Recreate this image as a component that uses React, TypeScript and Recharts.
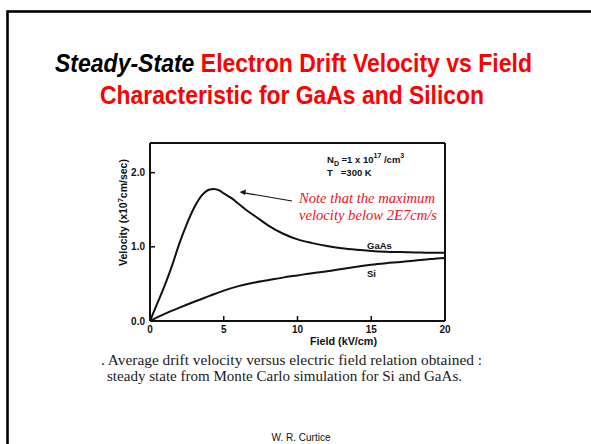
import React from 'react';
import { LineChart, Line, XAxis, YAxis } from 'recharts';

// Field (kV/cm) and velocity (x1e7 cm/s)
const gaasField = [0, 0.5, 1, 1.5, 2, 2.5, 3, 3.5, 4, 4.3, 4.7, 5, 5.5, 6, 6.5, 7, 7.5, 8, 9, 10, 11, 12, 13, 14, 15, 16, 17, 18, 19, 20];
const gaasVelocity = [0, 0.24, 0.48, 0.75, 1.05, 1.31, 1.53, 1.69, 1.77, 1.78, 1.76, 1.72, 1.66, 1.58, 1.5, 1.43, 1.36, 1.29, 1.18, 1.1, 1.05, 1.01, 0.98, 0.96, 0.945, 0.935, 0.93, 0.925, 0.92, 0.92];
const siField = [0, 1, 2, 3, 4, 5, 6, 7, 8, 9, 10, 11, 12, 13, 14, 15, 16, 17, 18, 19, 20];
const siVelocity = [0, 0.095, 0.18, 0.26, 0.335, 0.41, 0.47, 0.515, 0.55, 0.585, 0.615, 0.645, 0.67, 0.7, 0.73, 0.76, 0.78, 0.795, 0.815, 0.835, 0.85];
const xTicks = [0, 5, 10, 15, 20];
const yTicks = [0, 1, 2];
const yTickLabels = ['0.0', '1.0', '2.0'];

const gaasData = gaasField.map((f, i) => ({ field: f, v: gaasVelocity[i] }));
const siData = siField.map((f, i) => ({ field: f, v: siVelocity[i] }));

const axisFont = { fontFamily: 'Liberation Sans, Arial, sans-serif', fontWeight: 700, fontSize: 10, fill: '#111' };

export default function App() {
  return (
    <div style={{ position: 'absolute', left: 0, top: 0, width: 591, height: 444, background: '#fff', overflow: 'hidden' }}>
      <div style={{ position: 'absolute', left: 0, top: 0 }}>
        <LineChart width={591} height={444} data={gaasData} margin={{ top: 138, right: 141, bottom: 93, left: 110 }}>
          <XAxis
            xAxisId="b"
            dataKey="field"
            type="number"
            domain={[0, 20]}
            ticks={xTicks}
            interval={0}
            height={30}
            orientation="bottom"
            axisLine={{ stroke: '#111', strokeWidth: 2 }}
            tickLine={{ stroke: '#111', strokeWidth: 1.5 }}
            tickSize={-5}
            tickMargin={10}
            tick={axisFont}
          />
          <XAxis
            xAxisId="t"
            dataKey="field"
            type="number"
            domain={[0, 20]}
            ticks={xTicks}
            interval={0}
            height={5}
            orientation="top"
            axisLine={{ stroke: '#111', strokeWidth: 2 }}
            tickLine={{ stroke: '#111', strokeWidth: 1.5 }}
            tickSize={-5}
            tick={false}
          />
          <YAxis
            yAxisId="l"
            type="number"
            domain={[0, 2.4]}
            ticks={yTicks}
            interval={0}
            width={40}
            orientation="left"
            axisLine={{ stroke: '#111', strokeWidth: 2 }}
            tickLine={{ stroke: '#111', strokeWidth: 1.5 }}
            tickSize={-5}
            tickMargin={10}
            tick={axisFont}
            tickFormatter={(v: number) => yTickLabels[yTicks.indexOf(v)]}
          />
          <YAxis
            yAxisId="r"
            type="number"
            domain={[0, 2.4]}
            ticks={yTicks}
            interval={0}
            width={5}
            orientation="right"
            axisLine={{ stroke: '#111', strokeWidth: 2 }}
            tickLine={{ stroke: '#111', strokeWidth: 1.5 }}
            tickSize={-5}
            tick={false}
          />
          <Line data={gaasData} xAxisId="b" yAxisId="l" dataKey="v" type="monotone" stroke="#111" strokeWidth={2} dot={false} isAnimationActive={false} />
          <Line data={siData} xAxisId="b" yAxisId="l" dataKey="v" type="monotone" stroke="#111" strokeWidth={2} dot={false} isAnimationActive={false} />
        </LineChart>
      </div>
      <svg width={591} height={444} style={{ position: 'absolute', left: 0, top: 0, pointerEvents: 'none' }}>
        <rect x={7.5} y={11.5} width={700} height={600} fill="none" stroke="#000" strokeWidth={2.6} />
        <text x={55} y={72.4} fontFamily="Liberation Sans, Arial, sans-serif" fontWeight={700} fontSize={25} textLength={477} lengthAdjust="spacingAndGlyphs">
          <tspan fill="#000" fontStyle="italic">Steady-State</tspan>
          <tspan fill="#ff0000"> Electron Drift Velocity vs Field</tspan>
        </text>
        <text x={100} y={103.5} fill="#ff0000" fontFamily="Liberation Sans, Arial, sans-serif" fontWeight={700} fontSize={25} textLength={384} lengthAdjust="spacingAndGlyphs">
          Characteristic for GaAs and Silicon
        </text>

        <text x={310} y={345} {...axisFont} textLength={67} lengthAdjust="spacingAndGlyphs">Field (kV/cm)</text>
        <text transform="rotate(-90, 127, 212.5)" x={127} y={212.5} textAnchor="middle" {...axisFont} fontSize={10.5}>
          Velocity (x10<tspan dy={-4} fontSize={7.5}>7</tspan><tspan dy={4}>cm/sec)</tspan>
        </text>

        <text x={327} y={163} {...axisFont} fontSize={9.5} fontWeight={600}>
          N<tspan dy={2.5} fontSize={7}>D</tspan><tspan dy={-2.5}> =1 x 10</tspan><tspan dy={-5} fontSize={7}>17</tspan><tspan dy={5}> /cm</tspan><tspan dy={-5} fontSize={7}>3</tspan>
        </text>
        <text x={327} y={176} {...axisFont} fontSize={9.5} fontWeight={600}>T<tspan dx={8}>=300 K</tspan></text>
        <text x={367} y={249} {...axisFont} fontSize={9.5} fontWeight={600}>GaAs</text>
        <text x={367} y={277} {...axisFont} fontSize={9.5} fontWeight={600}>Si</text>

        <text x={299} y={203} fill="#f01020" fontFamily="Liberation Serif, Times New Roman, serif" fontStyle="italic" fontSize={15} textLength={136} lengthAdjust="spacingAndGlyphs">Note that the maximum</text>
        <text x={299} y={220} fill="#f01020" fontFamily="Liberation Serif, Times New Roman, serif" fontStyle="italic" fontSize={15} textLength={138} lengthAdjust="spacingAndGlyphs">velocity below 2E7cm/s</text>

        <line x1={292} y1={201} x2={244} y2={192.8} stroke="#111" strokeWidth={1.2} />
        <polygon points="239.5,192 246,189.5 245,195" fill="#111" />

        <text x={101} y={365} fill="#1a1a1a" fontFamily="Liberation Serif, Times New Roman, serif" fontSize={14} textLength={381} lengthAdjust="spacingAndGlyphs">. Average drift velocity versus electric field relation obtained :</text>
        <text x={107} y={381} fill="#1a1a1a" fontFamily="Liberation Serif, Times New Roman, serif" fontSize={14} textLength={355} lengthAdjust="spacingAndGlyphs">steady state from Monte Carlo simulation for Si and GaAs.</text>

        <text x={301} y={441} textAnchor="middle" fill="#111" fontFamily="Liberation Sans, Arial, sans-serif" fontSize={10}>W. R. Curtice</text>
      </svg>
    </div>
  );
}
